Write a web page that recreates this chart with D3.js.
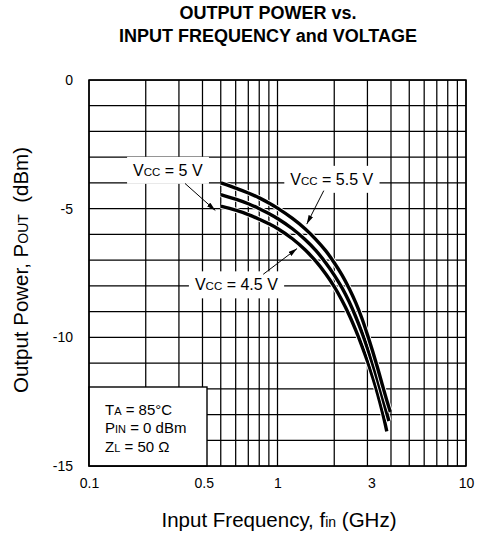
<!DOCTYPE html>
<html><head><meta charset="utf-8">
<script src="https://cdn.jsdelivr.net/npm/d3@7"></script>
<style>
body{margin:0;background:#fff}
svg{display:block}
text{font-family:"Liberation Sans",Arial,Helvetica,sans-serif;fill:#000}
</style>
</head><body>
<svg id="c" width="478" height="537"></svg>
<script>
// ---------- data ----------
const freqTicks = [0.1, 0.5, 1, 3, 10];
const powerTicks = [0, -5, -10, -15];
const titleLines = ["OUTPUT POWER vs.", "INPUT FREQUENCY and VOLTAGE"];

// VCC = 5.5 V
const freq55 = [0.5, 0.6, 0.7, 0.8, 0.9, 1.0, 1.2, 1.4, 1.6, 1.8, 2.0, 2.2, 2.4, 2.6, 2.8, 3.0, 3.2, 3.4, 3.6, 3.8, 3.97];
const pout55 = [-4.0, -4.2, -4.39, -4.58, -4.78, -4.98, -5.38, -5.78, -6.2, -6.63, -7.1, -7.58, -8.1, -8.65, -9.25, -9.9, -10.55, -11.2, -11.85, -12.45, -12.9];
// VCC = 5 V
const freq50 = [0.5, 0.6, 0.7, 0.8, 0.9, 1.0, 1.2, 1.4, 1.6, 1.8, 2.0, 2.2, 2.4, 2.6, 2.8, 3.0, 3.2, 3.4, 3.6, 3.8, 3.9];
const pout50 = [-4.45, -4.63, -4.81, -5.0, -5.19, -5.38, -5.78, -6.2, -6.63, -7.1, -7.58, -8.08, -8.62, -9.2, -9.8, -10.42, -11.05, -11.68, -12.32, -12.95, -13.25];
// VCC = 4.5 V
const freq45 = [0.5, 0.6, 0.7, 0.8, 0.9, 1.0, 1.2, 1.4, 1.6, 1.8, 2.0, 2.2, 2.4, 2.6, 2.8, 3.0, 3.2, 3.4, 3.6, 3.8];
const pout45 = [-4.9, -5.06, -5.23, -5.41, -5.59, -5.77, -6.17, -6.6, -7.05, -7.53, -8.03, -8.57, -9.13, -9.72, -10.32, -10.93, -11.55, -12.2, -12.9, -13.65];

const conditions = [["T", "A", " = 85°C"], ["P", "IN", " = 0 dBm"], ["Z", "L", " = 50 Ω"]];

// ---------- layout ----------
const W = 478, H = 537;
const L = 89, R = 466, T = 80, B = 466;
const svg = d3.select("#c");
svg.append("rect").attr("width", W).attr("height", H).attr("fill", "#fff");

const x = d3.scaleLog().domain([0.1, 10]).range([L, R]);
const y = d3.scaleLinear().domain([-15, 0]).range([B, T]);

// helper for text with small-cap style subscripts
function richText(sel, parts, big, small) {
  parts.forEach((p, i) => {
    sel.append("tspan").text(p).attr("font-size", i % 2 === 1 ? small : big);
  });
  return sel;
}

// title
titleLines.forEach((t, i) => {
  svg.append("text").attr("x", 268).attr("y", 19 + i * 23)
    .attr("text-anchor", "middle").attr("font-weight", "bold").attr("font-size", 18).text(t);
});

// grid
const vgrid = [];
[0.1, 1].forEach(dec => { for (let k = 1; k <= 9; k++) vgrid.push(+(k * dec).toFixed(3)); });
vgrid.push(10);
const grid = svg.append("g").attr("stroke", "#000").attr("stroke-width", 1.25);
grid.selectAll(".v").data(vgrid).join("line")
  .attr("x1", d => x(d)).attr("x2", d => x(d)).attr("y1", T).attr("y2", B);
grid.selectAll(".h").data(d3.range(-15, 1)).join("line")
  .attr("x1", L).attr("x2", R).attr("y1", d => y(d)).attr("y2", d => y(d));

// annotation labels (white boxes over the grid)
const annotations = [
  {parts: ["V", "CC", " = 5 V"], at: [0.262, -3.5], from: [0.323, -4.02], to: [0.468, -5.07]},
  {parts: ["V", "CC", " = 5.5 V"], at: [1.94, -3.85], from: [1.76, -4.3], to: [1.43, -5.6]},
  {parts: ["V", "CC", " = 4.5 V"], at: [0.605, -7.95], from: [0.84, -7.55], to: [1.27, -6.55]}
];
const annG = svg.append("g");
annotations.forEach(a => {
  const g = annG.append("g");
  const t = g.append("text").attr("x", x(a.at[0])).attr("y", y(a.at[1]))
    .attr("text-anchor", "middle").attr("dy", "0.36em");
  richText(t, a.parts, 16, 11.5);
  const bb = t.node().getBBox();
  g.insert("rect", "text").attr("x", bb.x - 6).attr("y", bb.y - 5)
    .attr("width", bb.width + 12).attr("height", bb.height + 10).attr("fill", "#fff");
});

// arrow marker
svg.append("defs").append("marker").attr("id", "ah")
  .attr("viewBox", "0 0 9 5").attr("refX", 9).attr("refY", 2.5)
  .attr("markerWidth", 9).attr("markerHeight", 5).attr("markerUnits", "userSpaceOnUse")
  .attr("orient", "auto")
  .append("path").attr("d", "M0,0 L9,2.5 L0,5 Z").attr("fill", "#000");

// curves
const line = d3.line().x(d => x(d[0])).y(d => y(d[1])).curve(d3.curveCatmullRom.alpha(0.5));
const series = [
  {f: freq45, p: pout45},
  {f: freq50, p: pout50},
  {f: freq55, p: pout55}
];
const cg = svg.append("g").attr("fill", "none");
series.forEach(s => {
  const pts = s.f.map((f, i) => [f, s.p[i]]);
  cg.append("path").attr("d", line(pts)).attr("stroke", "#fff").attr("stroke-width", 5.2);
  cg.append("path").attr("d", line(pts)).attr("stroke", "#000").attr("stroke-width", 3.4);
});

// arrows
annotations.forEach(a => {
  svg.append("line").attr("x1", x(a.from[0])).attr("y1", y(a.from[1]))
    .attr("x2", x(a.to[0])).attr("y2", y(a.to[1]))
    .attr("stroke", "#000").attr("stroke-width", 1).attr("marker-end", "url(#ah)");
});

// conditions box
const boxW = 118, boxH = 79;
svg.append("rect").attr("x", L).attr("y", B - boxH).attr("width", boxW).attr("height", boxH)
  .attr("fill", "#fff").attr("stroke", "#000").attr("stroke-width", 1.4);
conditions.forEach((c, i) => {
  const t = svg.append("text").attr("x", L + 16).attr("y", B - boxH + 28 + i * 18.3);
  richText(t, c, 15, 11);
});

// frame
svg.append("rect").attr("x", L).attr("y", T).attr("width", R - L).attr("height", B - T)
  .attr("fill", "none").attr("stroke", "#000").attr("stroke-width", 1.5);

// axes (labels only)
const nudge = {0.5: -17, 3: 4};
const gx = svg.append("g").attr("transform", `translate(0,${B})`)
  .call(d3.axisBottom(x).tickValues(freqTicks).tickSize(0).tickPadding(12).tickFormat(d => String(d)));
gx.select(".domain").remove();
gx.selectAll("text").attr("font-size", 14).attr("font-family", null)
  .attr("dx", d => nudge[d] || 0);

const gy = svg.append("g").attr("transform", `translate(${L},0)`)
  .call(d3.axisLeft(y).tickValues(powerTicks).tickSize(0).tickPadding(16).tickFormat(d => String(d)));
gy.select(".domain").remove();
gy.selectAll("text").attr("font-size", 14).attr("font-family", null);

// axis titles
const xt = svg.append("text").attr("x", 279).attr("y", 527).attr("text-anchor", "middle");
richText(xt, ["Input Frequency, f", "in", " (GHz)"], 20.5, 14);
const yt = svg.append("text").attr("transform", "translate(28,270) rotate(-90)").attr("text-anchor", "middle")
  .attr("xml:space", "preserve");
richText(yt, ["Output Power, P", "OUT", "  (dBm)"], 20.5, 14);
</script>
</body></html>
